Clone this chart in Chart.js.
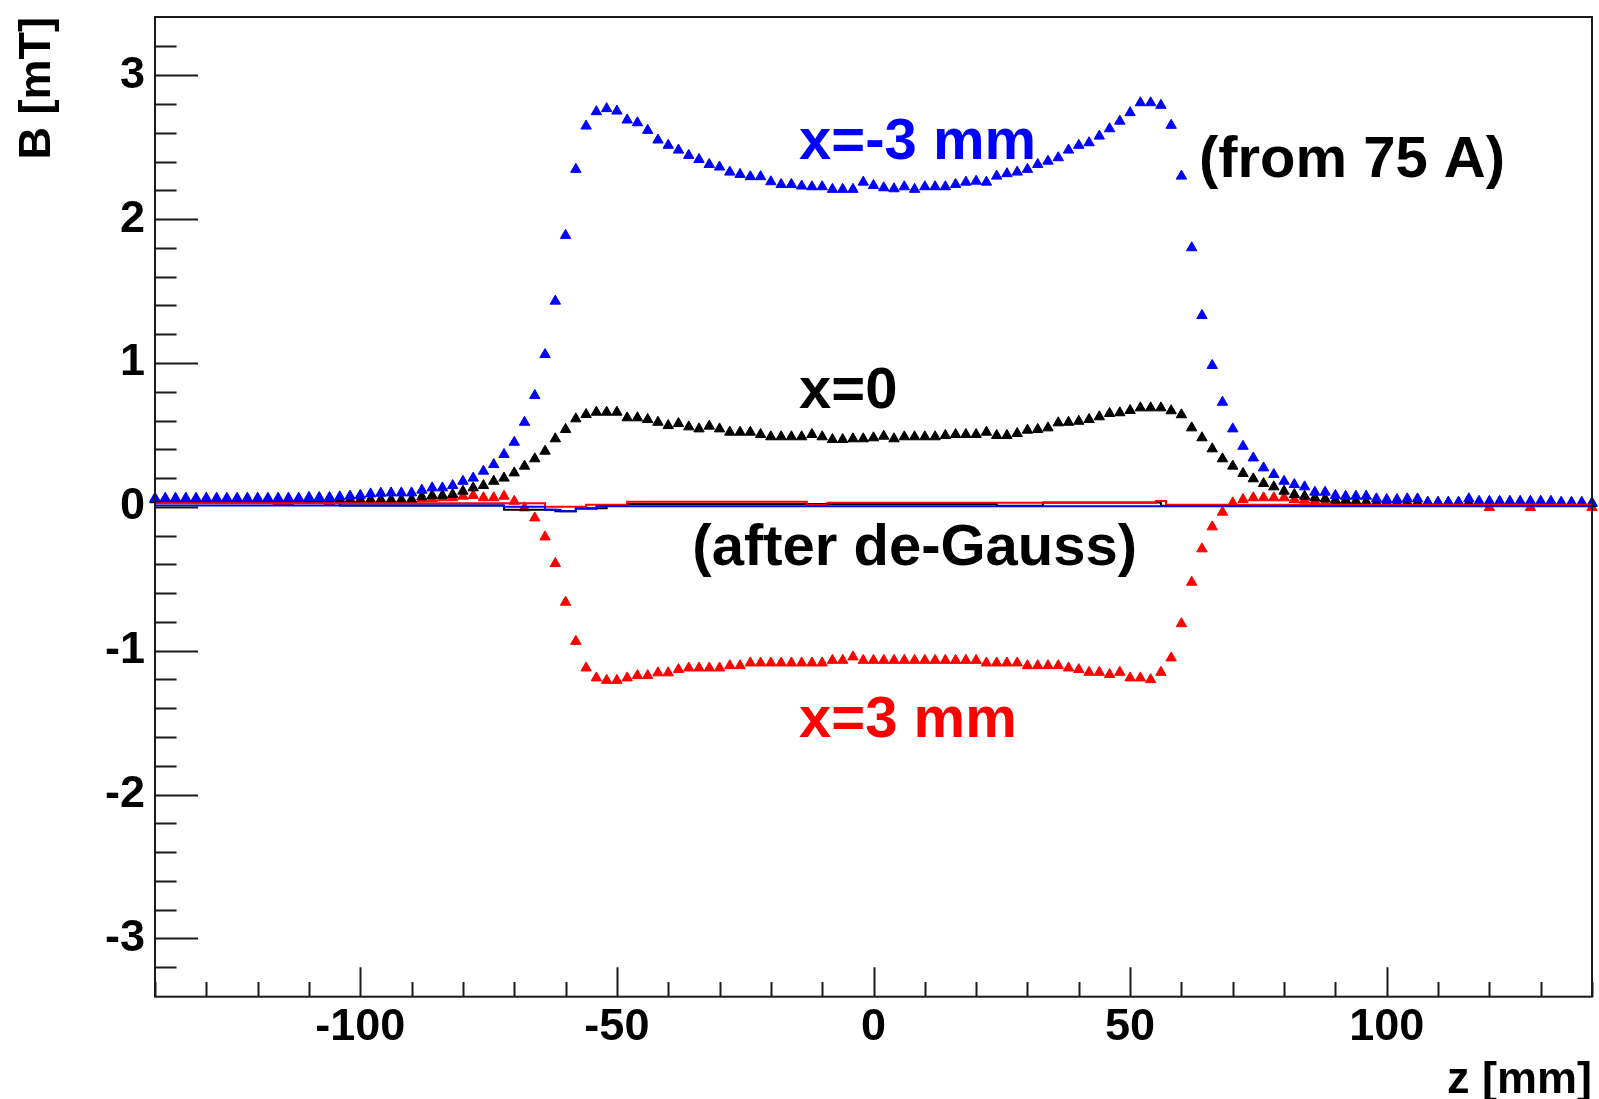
<!DOCTYPE html>
<html>
<head>
<meta charset="utf-8">
<script src="https://cdn.jsdelivr.net/npm/chart.js@4.4.1/dist/chart.umd.min.js"></script>
<style>
html,body{margin:0;padding:0;background:#fff;overflow:hidden}
#c{display:block}
</style>
</head>
<body>
<canvas id="c" width="1599" height="1099"></canvas>
<script>
// ---------------- data ----------------
const zPositions = [
  -140,-138,-136,-134,-132,-130,-128,-126,-124,-122,
  -120,-118,-116,-114,-112,-110,-108,-106,-104,-102,
  -100,-98,-96,-94,-92,-90,-88,-86,-84,-82,
  -80,-78,-76,-74,-72,-70,-68,-66,-64,-62,
  -60,-58,-56,-54,-52,-50,-48,-46,-44,-42,
  -40,-38,-36,-34,-32,-30,-28,-26,-24,-22,
  -20,-18,-16,-14,-12,-10,-8,-6,-4,-2,
  0,2,4,6,8,10,12,14,16,18,
  20,22,24,26,28,30,32,34,36,38,
  40,42,44,46,48,50,52,54,56,58,
  60,62,64,66,68,70,72,74,76,78,
  80,82,84,86,88,90,92,94,96,98,
  100,102,104,106,108,110,112,114,116,118,
  120,122,124,126,128,130,132,134,136,138,
  140
];

// B [mT] at x = -3 mm (blue)
const bAtMinus3 = [
  0.06,0.06,0.06,0.06,0.06,0.06,0.06,0.06,0.06,0.06,
  0.06,0.06,0.06,0.06,0.06,0.065,0.065,0.065,0.07,0.075,
  0.08,0.09,0.095,0.097,0.097,0.097,0.116,0.132,0.132,0.148,
  0.178,0.2,0.248,0.294,0.364,0.449,0.588,0.774,1.059,1.43,
  1.887,2.346,2.647,2.747,2.768,2.751,2.689,2.67,2.617,2.55,
  2.513,2.48,2.443,2.415,2.38,2.362,2.327,2.311,2.295,2.295,
  2.26,2.241,2.241,2.23,2.225,2.225,2.207,2.207,2.207,2.257,
  2.234,2.218,2.211,2.225,2.207,2.225,2.225,2.225,2.241,2.257,
  2.264,2.257,2.299,2.316,2.327,2.346,2.38,2.403,2.427,2.48,
  2.513,2.531,2.577,2.628,2.681,2.74,2.809,2.809,2.791,2.652,
  2.299,1.801,1.33,0.983,0.727,0.542,0.421,0.34,0.271,0.225,
  0.178,0.155,0.139,0.102,0.102,0.079,0.074,0.074,0.074,0.056,
  0.051,0.051,0.056,0.056,0.032,0.032,0.032,0.032,0.056,0.039,
  0.039,0.039,0.039,0.039,0.039,0.039,0.039,0.032,0.032,0.032,
  0.028
];

// B [mT] at x = 0 (black)
const bAtZero = [
  0.05,0.05,0.05,0.05,0.05,0.05,0.05,0.05,0.05,0.05,
  0.05,0.05,0.05,0.05,0.05,0.05,0.05,0.05,0.05,0.05,
  0.05,0.05,0.048,0.046,0.046,0.05,0.07,0.079,0.079,0.086,
  0.109,0.132,0.148,0.178,0.2,0.236,0.283,0.334,0.387,0.473,
  0.538,0.612,0.642,0.658,0.658,0.658,0.619,0.619,0.607,0.588,
  0.565,0.579,0.556,0.542,0.561,0.542,0.519,0.519,0.519,0.503,
  0.487,0.487,0.487,0.487,0.503,0.487,0.468,0.468,0.473,0.473,
  0.48,0.491,0.473,0.487,0.487,0.487,0.487,0.496,0.503,0.503,
  0.503,0.519,0.496,0.496,0.51,0.533,0.538,0.549,0.584,0.588,
  0.595,0.607,0.626,0.649,0.654,0.67,0.688,0.688,0.688,0.668,
  0.64,0.549,0.48,0.403,0.334,0.283,0.232,0.195,0.162,0.139,
  0.109,0.086,0.074,0.063,0.056,0.046,0.046,0.039,0.035,0.032,
  0.03,0.03,0.03,0.03,0.03,0.03,0.03,0.03,0.03,0.03,
  0.03,0.03,0.03,0.03,0.03,0.03,0.03,0.028,0.025,0.023,
  0.023
];

// B [mT] at x = 3 mm (red)
const bAtPlus3 = [
  0.05,0.05,0.05,0.05,0.05,0.05,0.05,0.05,0.05,0.05,
  0.05,0.05,0.035,0.035,0.05,0.05,0.05,0.035,0.05,0.05,
  0.045,0.045,0.05,0.05,0.051,0.051,0.056,0.056,0.063,0.063,
  0.074,0.079,0.063,0.063,0.074,0.039,-0.007,-0.077,-0.209,-0.394,
  -0.663,-0.935,-1.12,-1.189,-1.206,-1.206,-1.189,-1.173,-1.173,-1.154,
  -1.154,-1.131,-1.12,-1.12,-1.12,-1.12,-1.104,-1.104,-1.085,-1.085,
  -1.085,-1.085,-1.085,-1.085,-1.085,-1.085,-1.067,-1.067,-1.043,-1.067,
  -1.067,-1.067,-1.067,-1.067,-1.067,-1.067,-1.067,-1.067,-1.067,-1.067,
  -1.067,-1.085,-1.085,-1.085,-1.085,-1.104,-1.104,-1.104,-1.104,-1.12,
  -1.131,-1.15,-1.15,-1.166,-1.15,-1.189,-1.189,-1.201,-1.15,-1.05,
  -0.812,-0.524,-0.292,-0.139,-0.037,0.028,0.051,0.063,0.063,0.063,
  0.063,0.051,0.046,0.039,0.032,0.028,0.025,0.025,0.025,0.025,
  0.025,0.025,0.025,0.025,0.025,0.025,0.025,0.025,0.025,0.025,
  -0.005,0.025,0.025,0.025,-0.005,0.025,0.025,0.025,0.025,0.025,
  -0.005
];

// "after de-Gauss" step curves: z where the level changes, and the level [mT]
const dgBlueZ  = [-140, -72, -64, -61, -58, -54, -48, 140];
const dgBlueB  = [0.035, 0.01, 0.0, -0.02, -0.03, -0.014, 0.004, 0.004];
const dgRedZ   = [-140, -64, -56, -48, -13, -9, 55, 57, 61, 140];
const dgRedB   = [0.04, 0.025, 0.0, 0.015, 0.035, 0.015, 0.028, 0.04, 0.015, 0.015];
const dgBlackZ = [-140, -104, -72, -62, -58, -52, -48, 24, 33, 56, 61, 140];
const dgBlackB = [0.045, 0.028, 0.01, -0.02, -0.03, -0.01, 0.008, 0.02, 0.008, 0.03, 0.008, 0.008];

// axis ticks
const xMajorTicks = [-100, -50, 0, 50, 100];
const yMajorTicks = [-3, -2, -1, 0, 1, 2, 3];

// texts drawn inside the frame, anchored in data coordinates
const notes = [
  {text: 'x=-3 mm',          z: -14.5, b: 2.415,  color: '#0000ff'},
  {text: '(from 75 A)',      z: 63.4,  b: 2.29,   color: '#000000'},
  {text: 'x=0',              z: -14.5, b: 0.69,   color: '#000000'},
  {text: '(after de-Gauss)', z: -35.3, b: -0.401, color: '#000000'},
  {text: 'x=3 mm',           z: -14.5, b: -1.597, color: '#ff0000'}
];

// ---------------- chart ----------------
const FONT = '"Liberation Sans", Arial, Helvetica, sans-serif';
const toPts = (xs, ys) => xs.map((x, i) => ({x: x, y: ys[i]}));
const isMult = (v, s) => Math.abs(v / s - Math.round(v / s)) < 1e-6;
const inList = (v, list) => list.some(t => Math.abs(t - v) < 1e-6);

const rootFrame = {
  id: 'rootFrame',
  afterDatasetsDraw(chart) {
    const {ctx, chartArea: a, scales: {x, y}} = chart;
    ctx.save();
    ctx.strokeStyle = '#1a1a1a';
    ctx.lineWidth = 2;
    ctx.strokeRect(a.left, a.top, a.right - a.left, a.bottom - a.top);
    const yLen = 0.03 * (a.right - a.left);
    const xLen = 0.03 * (a.bottom - a.top);
    ctx.beginPath();
    y.ticks.forEach(t => {
      if (!isMult(t.value, 0.2)) return;
      const p = Math.round(y.getPixelForValue(t.value)) + 0.5;
      const L = inList(t.value, yMajorTicks) ? yLen : yLen / 2;
      ctx.moveTo(a.left, p); ctx.lineTo(a.left + L, p);
    });
    x.ticks.forEach(t => {
      if (!isMult(t.value, 10)) return;
      const p = Math.round(x.getPixelForValue(t.value)) + 0.5;
      const L = inList(t.value, xMajorTicks) ? xLen : xLen / 2;
      ctx.moveTo(p, a.bottom); ctx.lineTo(p, a.bottom - L);
    });
    ctx.stroke();
    ctx.font = 'bold 58px ' + FONT;
    ctx.textBaseline = 'alphabetic';
    ctx.textAlign = 'left';
    notes.forEach(n => {
      ctx.fillStyle = n.color;
      ctx.fillText(n.text, x.getPixelForValue(n.z), y.getPixelForValue(n.b));
    });
    ctx.restore();
  }
};

const markerSet = (label, ys, color, order) => ({
  label: label, data: toPts(zPositions, ys), showLine: false,
  pointStyle: 'triangle', pointRadius: 6, pointBorderWidth: 1,
  pointBackgroundColor: color, pointBorderColor: color, order: order, clip: false
});
const stepSet = (label, zs, bs, color, order) => ({
  label: label, data: toPts(zs, bs), showLine: true, stepped: 'after',
  borderColor: color, borderWidth: 2, pointRadius: 0, fill: false, order: order
});

const tickFont = {family: FONT, size: 45, weight: 'bold'};
const noPad = s => { s.paddingTop = 0; s.paddingBottom = 0; s.paddingLeft = 0; s.paddingRight = 0; };

new Chart(document.getElementById('c'), {
  type: 'scatter',
  data: {
    datasets: [
      stepSet('after de-Gauss, x=-3 mm', dgBlueZ, dgBlueB, '#0000ff', 0),
      stepSet('after de-Gauss, x=3 mm', dgRedZ, dgRedB, '#ff0000', 1),
      stepSet('after de-Gauss, x=0', dgBlackZ, dgBlackB, '#000000', 2),
      markerSet('x=-3 mm', bAtMinus3, '#0000ff', 3),
      markerSet('x=0', bAtZero, '#000000', 4),
      markerSet('x=3 mm', bAtPlus3, '#ff0000', 5)
    ]
  },
  options: {
    responsive: false,
    animation: false,
    devicePixelRatio: 1,
    events: [],
    layout: {padding: {left: 0, top: 17, right: 2.5, bottom: 0}},
    plugins: {legend: {display: false}, tooltip: {enabled: false}},
    scales: {
      x: {
        type: 'linear', min: -140, max: 140,
        afterFit(s) { s.height = 102.3; noPad(s); },
        grid: {display: false, drawTicks: false},
        border: {display: false},
        ticks: {
          stepSize: 10, autoSkip: false, maxRotation: 0, padding: 4,
          color: '#000', font: tickFont,
          callback: v => inList(v, xMajorTicks) ? String(Math.round(v)) : ''
        },
        title: {
          display: true, text: 'z [mm]', align: 'end', color: '#000',
          font: {family: FONT, size: 45, weight: 'bold', lineHeight: 0.8},
          padding: {top: 0, bottom: 0}
        }
      },
      y: {
        type: 'linear', min: -3.405, max: 3.405,
        afterFit(s) { s.width = 155; noPad(s); },
        grid: {display: false, drawTicks: false},
        border: {display: false},
        ticks: {
          stepSize: 0.2, autoSkip: false, padding: 10,
          color: '#000', font: tickFont,
          callback: v => inList(v, yMajorTicks) ? String(Math.round(v)) : ''
        },
        title: {
          display: true, text: 'B [mT]', align: 'end', color: '#000',
          font: {family: FONT, size: 45, weight: 'bold', lineHeight: 1.2},
          padding: {top: 10.4, bottom: 0}
        }
      }
    }
  },
  plugins: [rootFrame]
});
</script>
</body>
</html>
